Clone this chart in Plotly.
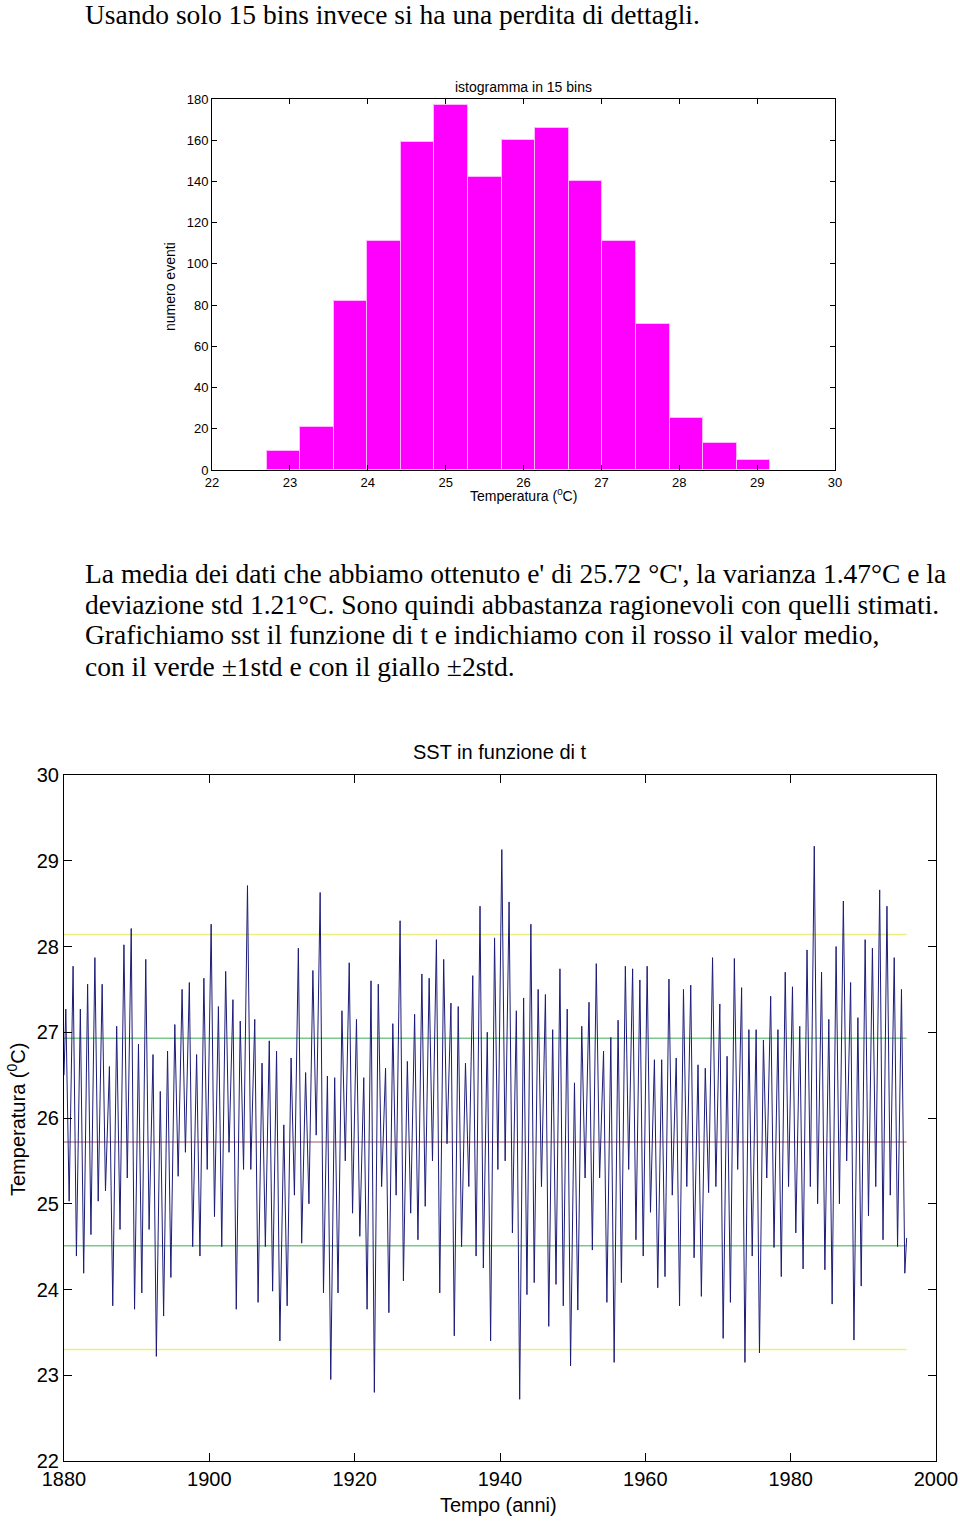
import plotly.graph_objects as go

# ---------------- data ----------------
# Histogram (15 bins)
HIST_COUNTS = [9, 21, 82, 111, 159, 177, 142, 160, 166, 140, 111, 71, 25, 13, 5]
HIST_MIN = 22.70
HIST_MAX = 29.17

# Monthly SST series summarised by yearly maxima (≈April) and minima (≈September)
YEARS = list(range(1880, 1996))
PEAKS = [
    27.27, 27.77, 27.27, 27.56, 27.87, 27.56, 26.60, 27.07, 28.02, 28.21,
    26.86, 27.85, 26.74, 26.31, 26.78, 27.09, 27.50, 27.58, 26.74, 27.63,
    28.26, 27.30, 27.71, 27.38, 27.13, 28.71, 27.15, 26.64, 26.90, 26.78,
    25.92, 26.70, 27.98, 26.53, 27.72, 28.63, 26.49, 26.47, 27.25, 27.81,
    27.15, 26.47, 27.60, 27.56, 26.58, 27.10, 28.30, 26.66, 27.21, 27.68,
    27.63, 28.08, 27.85, 27.34, 27.30, 26.64, 27.66, 28.47, 27.00, 28.10,
    29.13, 28.52, 27.25, 27.40, 28.26, 27.50, 27.44, 27.03, 27.74, 27.27,
    26.41, 27.07, 27.35, 27.80, 26.78, 26.94, 27.14, 27.77, 27.74, 27.61,
    27.77, 26.68, 26.68, 27.62, 26.70, 27.50, 27.55, 26.62, 26.58, 27.87,
    27.33, 26.72, 27.86, 27.52, 27.03, 27.03, 26.91, 27.42, 27.03, 27.70,
    27.53, 27.07, 27.96, 29.17, 27.70, 27.15, 28.00, 28.53, 27.58, 27.17,
    28.08, 27.98, 28.66, 28.47, 27.87, 27.50,
]
TROUGHS = [
    25.03, 24.39, 24.19, 24.64, 25.03, 25.15, 23.81, 24.70, 25.30, 23.77,
    23.96, 24.70, 23.22, 23.69, 24.14, 25.32, 25.60, 24.50, 24.39, 25.40,
    24.85, 24.50, 25.60, 23.77, 25.40, 25.40, 23.85, 24.50, 23.98, 23.40,
    23.81, 25.10, 24.54, 25.00, 25.80, 23.96, 22.95, 23.96, 25.50, 24.89,
    24.62, 23.77, 22.80, 25.20, 23.73, 25.10, 24.10, 24.89, 24.58, 24.97,
    25.50, 23.96, 25.70, 23.46, 24.50, 25.20, 24.39, 24.25, 23.40, 25.40,
    25.50, 24.66, 22.72, 23.94, 24.08, 25.20, 23.57, 24.06, 23.81, 23.11,
    23.76, 25.30, 24.46, 25.30, 23.85, 23.15, 24.08, 25.40, 24.58, 24.39,
    24.90, 24.02, 24.15, 25.10, 23.81, 25.20, 24.37, 23.92, 25.13, 25.20,
    23.43, 23.85, 25.40, 23.15, 24.39, 23.26, 25.30, 24.49, 24.15, 25.20,
    24.66, 24.24, 25.20, 25.00, 24.23, 23.83, 25.00, 25.50, 23.41, 24.04,
    24.86, 25.20, 24.58, 25.10, 24.50, 24.19,
]
START_VALUE = 26.5   # January 1880
END_VALUE = 24.6     # December 1995
PEAK_MONTH = 3       # months after January
TROUGH_MONTH = 8.5
MEAN = 25.72
STD = 1.21

# ---------------- build series ----------------
t = [YEARS[0]]
v = [START_VALUE]
for yr, pk, tr in zip(YEARS, PEAKS, TROUGHS):
    t += [yr + PEAK_MONTH / 12, yr + TROUGH_MONTH / 12]
    v += [pk, tr]
t.append(YEARS[-1] + 11.5 / 12)
v.append(END_VALUE)

nb = len(HIST_COUNTS)
bw = (HIST_MAX - HIST_MIN) / nb
centers = [HIST_MIN + bw * (i + 0.5) for i in range(nb)]

W, H = 960, 1525


def px(x):
    return x / W


def py(y):
    return 1 - y / H


fig = go.Figure()

fig.add_trace(go.Bar(
    x=centers, y=HIST_COUNTS, width=bw,
    marker=dict(color="#ff00ff", line=dict(color="#ffb8ff", width=1)),
    xaxis="x", yaxis="y", showlegend=False))

t0, t1 = t[0], t[-1]
for val, col in [(MEAN + 2 * STD, "#eeee80"), (MEAN - 2 * STD, "#eeee80"),
                 (MEAN + STD, "#7cc88c"), (MEAN - STD, "#7cc88c"),
                 (MEAN, "#c08c98")]:
    fig.add_trace(go.Scatter(x=[t0, t1], y=[val, val], mode="lines",
                             line=dict(color=col, width=1.5),
                             xaxis="x2", yaxis="y2", showlegend=False))

fig.add_trace(go.Scatter(x=t, y=v, mode="lines",
                         line=dict(color="#1c1c78", width=1),
                         xaxis="x2", yaxis="y2", showlegend=False))

axis_common = dict(showline=True, linecolor="black", linewidth=1, mirror="ticks",
                   ticks="inside", tickcolor="black", showgrid=False, zeroline=False,
                   automargin=False)

fig.update_layout(
    width=W, height=H,
    margin=dict(l=0, r=0, t=0, b=0, pad=0, autoexpand=False),
    paper_bgcolor="white", plot_bgcolor="white",
    bargap=0,
    xaxis=dict(domain=[px(212), px(835)], range=[22, 30], tickvals=list(range(22, 31)),
               ticklen=5, tickfont=dict(family="Liberation Sans", size=13, color="black"),
               anchor="y", **axis_common),
    yaxis=dict(domain=[py(470), py(99)], range=[0, 180], tickvals=list(range(0, 181, 20)),
               ticklen=5, tickfont=dict(family="Liberation Sans", size=13, color="black"),
               anchor="x", **axis_common),
    xaxis2=dict(domain=[px(64), px(936)], range=[1880, 2000], tickvals=list(range(1880, 2001, 20)),
                ticklen=8, tickfont=dict(family="Liberation Sans", size=20, color="black"),
                anchor="y2", **axis_common),
    yaxis2=dict(domain=[py(1461), py(775)], range=[22, 30], tickvals=list(range(22, 31)),
                ticklen=8, tickfont=dict(family="Liberation Sans", size=20, color="black"),
                anchor="x2", **axis_common),
)

serif = dict(family="Liberation Serif", size=27.5, color="black")
sans_s = dict(family="Liberation Sans", size=14, color="black")
sans_l = dict(family="Liberation Sans", size=20, color="black")

annots = [
    (83, 14, "Usando solo 15 bins invece si ha una perdita di dettagli.", serif, "left", 0),
    (83, 573, "La media dei dati che abbiamo ottenuto e' di 25.72 °C', la varianza 1.47°C e la", serif, "left", 0),
    (83, 604, "deviazione std 1.21°C. Sono quindi abbastanza ragionevoli con quelli stimati.", serif, "left", 0),
    (83, 635, "Grafichiamo sst il funzione di t e indichiamo con il rosso il valor medio,", serif, "left", 0),
    (83, 666, "con il verde ±1std e con il giallo ±2std.", serif, "left", 0),
    (523, 87, "istogramma in 15 bins", sans_s, "center", 0),
    (523, 495, "Temperatura (<sup>0</sup>C)", sans_s, "center", 0),
    (170, 287, "numero eventi", sans_s, "center", -90),
    (500, 752, "SST in funzione di t", sans_l, "center", 0),
    (498, 1505, "Tempo (anni)", sans_l, "center", 0),
    (16, 1120, "Temperatura (<sup>0</sup>C)", sans_l, "center", -90),
]
for x, y, txt, f, xa, ang in annots:
    fig.add_annotation(x=px(x), y=py(y), xref="paper", yref="paper", text=txt,
                       showarrow=False, font=f, xanchor=xa, yanchor="middle",
                       textangle=ang)

fig.write_html("out.html",
               config={"displayModeBar": False},
               post_script="document.body.style.margin='0';document.body.style.overflow='hidden';")
